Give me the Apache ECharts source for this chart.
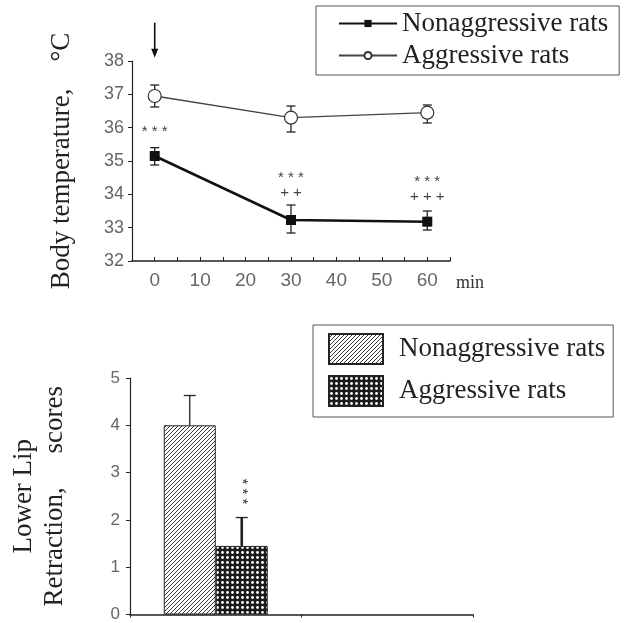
<!DOCTYPE html>
<html><head><meta charset="utf-8">
<script src="https://cdn.jsdelivr.net/npm/echarts/dist/echarts.min.js"></script>
<style>html,body{margin:0;padding:0;background:#fff}#c{width:625px;height:623px}</style>
</head><body><div id="c"></div>
<script>
// ---------- data ----------
const timePoints = [0, 30, 60];
const nonaggTemp = [35.15, 33.23, 33.18];
const nonaggTempLow = [34.88, 32.84, 32.93];
const nonaggTempHigh = [35.40, 33.68, 33.50];
const aggTemp = [36.95, 36.30, 36.45];
const aggTempLow = [36.62, 35.87, 36.14];
const aggTempHigh = [37.28, 36.65, 36.68];
const tempAnnotX = [0, 30, 30, 60, 60];
const tempAnnotY = [35.88, 34.48, 34.05, 34.38, 33.93];
const tempAnnotText = ['* * *', '* * *', '+ +', '* * *', '+ + +'];
const injectionArrow = [0, 39.15, 38.1];
const lipGroups = ['', ''];
const lipNonagg = [4.0];
const lipNonaggErr = [4.63];
const lipAgg = [1.45];
const lipAggErr = [2.05];
const lipAnnotY = 2.6;
const lipAnnotText = '* * *';
const tempTicks = { min: 32, max: 38, step: 1 };
const timeTicks = { min: -5, max: 65, step: 5 };
const lipTicks = { min: 0, max: 5, step: 1 };

// ---------- patterns ----------
function hatchCanvas() {
  const c = document.createElement('canvas'); c.width = c.height = 4;
  const g = c.getContext('2d');
  g.fillStyle = '#fff'; g.fillRect(0, 0, 4, 4);
  g.strokeStyle = '#222'; g.lineWidth = 0.9;
  g.beginPath();
  g.moveTo(0, 4); g.lineTo(4, 0);
  g.moveTo(-2, 2); g.lineTo(2, -2);
  g.moveTo(2, 6); g.lineTo(6, 2);
  g.stroke();
  return c;
}
function dotCanvas() {
  const c = document.createElement('canvas'); c.width = c.height = 5;
  const g = c.getContext('2d');
  g.fillStyle = '#1a1a1a'; g.fillRect(0, 0, 5, 5);
  g.fillStyle = '#fff';
  g.beginPath(); g.arc(2.5, 2.5, 1.4, 0, Math.PI * 2); g.fill();
  return c;
}
const hatchPattern = { image: hatchCanvas(), repeat: 'repeat' };
const dotPattern = { image: dotCanvas(), repeat: 'repeat' };

const serif = 'Liberation Serif';
const sans = 'Liberation Sans';
const BARW = 52;

const chart = echarts.init(document.getElementById('c'), null, { renderer: 'canvas' });

function errRender(capW, lw) {
  return function (params, api) {
    const x = api.value(0);
    const lo = api.coord([x, api.value(1)]);
    const hi = api.coord([x, api.value(2)]);
    const h = capW / 2;
    return {
      type: 'group',
      children: [
        { type: 'line', shape: { x1: lo[0], y1: lo[1], x2: hi[0], y2: hi[1] }, style: { stroke: '#222', lineWidth: lw } },
        { type: 'line', shape: { x1: lo[0] - h, y1: lo[1], x2: lo[0] + h, y2: lo[1] }, style: { stroke: '#222', lineWidth: lw } },
        { type: 'line', shape: { x1: hi[0] - h, y1: hi[1], x2: hi[0] + h, y2: hi[1] }, style: { stroke: '#222', lineWidth: lw } }
      ]
    };
  };
}

const option = {
  backgroundColor: '#fff',
  animation: false,
  grid: [
    { left: 132, top: 61, width: 318, height: 200 },
    { left: 127, top: 378, width: 346, height: 237 }
  ],
  legend: [
    {
      data: ['Nonaggressive rats', 'Aggressive rats'],
      orient: 'vertical', left: 316, top: 6,
      padding: [3, 11, 5, 22],
      borderColor: '#555', borderWidth: 1,
      itemWidth: 58, itemHeight: 9, itemGap: 3,
      selectedMode: false,
      textStyle: { fontFamily: serif, fontSize: 27, color: '#222', lineHeight: 29 }
    },
    {
      data: ['Nonaggressive rats|bar', 'Aggressive rats|bar'],
      orient: 'vertical', left: 313, top: 325,
      padding: [8, 8, 10, 15],
      borderColor: '#555', borderWidth: 1,
      itemWidth: 54, itemHeight: 30, itemGap: 10,
      icon: 'rect',
      selectedMode: false,
      formatter: n => n.split('|')[0],
      textStyle: { fontFamily: serif, fontSize: 27, color: '#222', padding: [0, 0, 0, 11] }
    }
  ],
  xAxis: [
    {
      type: 'value', gridIndex: 0, min: timeTicks.min, max: timeTicks.max, interval: timeTicks.step,
      axisLine: { onZero: false, lineStyle: { color: '#222', width: 1.5 } },
      axisTick: { inside: true, length: 4, lineStyle: { color: '#222' } },
      splitLine: { show: false },
      axisLabel: {
        fontFamily: sans, fontSize: 19, color: '#666', margin: 10,
        showMinLabel: true, showMaxLabel: true,
        formatter: v => (v >= 0 && v <= 60 && v % 10 === 0) ? String(v) : ''
      },
      name: 'min', nameLocation: 'end', nameGap: 6,
      nameTextStyle: { fontFamily: serif, fontSize: 18, color: '#333', verticalAlign: 'top', padding: [13, 0, 0, 0] }
    },
    {
      type: 'category', gridIndex: 1, data: lipGroups,
      axisLine: { onZero: false, lineStyle: { color: '#222', width: 1.5 } },
      axisTick: { show: true, alignWithLabel: false, length: 3, lineStyle: { color: '#222' } },
      axisLabel: { show: false }
    }
  ],
  yAxis: [
    {
      type: 'value', gridIndex: 0, min: tempTicks.min, max: tempTicks.max, interval: tempTicks.step,
      axisLine: { show: true, onZero: false, lineStyle: { color: '#222', width: 1.2 } },
      axisTick: { show: true, length: 4, lineStyle: { color: '#222' } },
      splitLine: { show: false },
      axisLabel: { fontFamily: sans, fontSize: 18, color: '#666', margin: 8 },
      name: 'Body temperature,    °C', nameLocation: 'middle', nameRotate: 90, nameGap: 57,
      nameTextStyle: { fontFamily: serif, fontSize: 27, color: '#222' }
    },
    {
      type: 'value', gridIndex: 1, min: lipTicks.min, max: lipTicks.max, interval: lipTicks.step,
      axisLine: { show: true, onZero: false, lineStyle: { color: '#222', width: 1.2 } },
      axisTick: { show: true, length: 4, lineStyle: { color: '#222' } },
      splitLine: { show: false },
      axisLabel: { fontFamily: sans, fontSize: 17, color: '#666', margin: 10 },
      name: 'Lower Lip\nRetraction,     scores', nameLocation: 'middle', nameRotate: 90, nameGap: 60,
      nameTextStyle: { fontFamily: serif, fontSize: 27, color: '#222', lineHeight: 31, align: 'center' }
    }
  ],
  series: [
    {
      type: 'custom', name: 'errTemp', xAxisIndex: 0, yAxisIndex: 0, z: 1, clip: false,
      data: timePoints.map((t, i) => [t, nonaggTempLow[i], nonaggTempHigh[i]]),
      renderItem: errRender(9, 1.3)
    },
    {
      type: 'custom', name: 'errTemp2', xAxisIndex: 0, yAxisIndex: 0, z: 1, clip: false,
      data: timePoints.map((t, i) => [t, aggTempLow[i], aggTempHigh[i]]),
      renderItem: errRender(9, 1.3)
    },
    {
      type: 'line', name: 'Nonaggressive rats', xAxisIndex: 0, yAxisIndex: 0, z: 3,
      data: timePoints.map((t, i) => [t, nonaggTemp[i]]),
      symbol: 'rect', symbolSize: 10,
      itemStyle: { color: '#111' },
      lineStyle: { color: '#111', width: 2.5 }
    },
    {
      type: 'line', name: 'Aggressive rats', xAxisIndex: 0, yAxisIndex: 0, z: 3,
      data: timePoints.map((t, i) => [t, aggTemp[i]]),
      symbol: 'circle', symbolSize: 13,
      itemStyle: { color: '#fff', borderColor: '#333', borderWidth: 1.2 },
      lineStyle: { color: '#444', width: 1.3 }
    },
    {
      type: 'custom', name: 'annot', xAxisIndex: 0, yAxisIndex: 0, z: 4, clip: false,
      data: tempAnnotX.map((x, i) => [x, tempAnnotY[i], i]),
      renderItem: function (params, api) {
        const p = api.coord([api.value(0), api.value(1)]);
        return { type: 'text', style: { text: tempAnnotText[api.value(2)], x: p[0], y: p[1], align: 'center', verticalAlign: 'middle', font: '15px ' + sans, fill: '#444' } };
      }
    },
    {
      type: 'custom', name: 'arrow', xAxisIndex: 0, yAxisIndex: 0, z: 4, clip: false,
      data: [injectionArrow],
      renderItem: function (params, api) {
        const a = api.coord([api.value(0), api.value(1)]);
        const b = api.coord([api.value(0), api.value(2)]);
        return {
          type: 'group', children: [
            { type: 'line', shape: { x1: a[0], y1: a[1], x2: b[0], y2: b[1] - 6 }, style: { stroke: '#111', lineWidth: 1.6 } },
            { type: 'polygon', shape: { points: [[b[0] - 3.5, b[1] - 9], [b[0] + 3.5, b[1] - 9], [b[0], b[1]]] }, style: { fill: '#111' } }
          ]
        };
      }
    },
    {
      type: 'bar', name: 'Nonaggressive rats|bar', xAxisIndex: 1, yAxisIndex: 1,
      data: lipNonagg, barWidth: BARW, barGap: '0%',
      itemStyle: { color: hatchPattern, borderColor: '#222', borderWidth: 1 }
    },
    {
      type: 'bar', name: 'Aggressive rats|bar', xAxisIndex: 1, yAxisIndex: 1,
      data: lipAgg, barWidth: BARW, barGap: '0%',
      itemStyle: { color: dotPattern, borderColor: '#222', borderWidth: 1 }
    },
    {
      type: 'custom', name: 'errLip', xAxisIndex: 1, yAxisIndex: 1, z: 4, clip: false,
      data: [[0, lipNonagg[0], lipNonaggErr[0], -1, 1.3], [0, lipAgg[0], lipAggErr[0], 1, 2.6]],
      renderItem: function (params, api) {
        const off = api.value(3) * BARW / 2;
        const lo = api.coord([api.value(0), api.value(1)]);
        const hi = api.coord([api.value(0), api.value(2)]);
        const x = lo[0] + off, lw = api.value(4);
        return {
          type: 'group', children: [
            { type: 'line', shape: { x1: x, y1: lo[1], x2: x, y2: hi[1] }, style: { stroke: '#222', lineWidth: lw } },
            { type: 'line', shape: { x1: x - 6, y1: hi[1], x2: x + 6, y2: hi[1] }, style: { stroke: '#222', lineWidth: 1.3 } }
          ]
        };
      }
    },
    {
      type: 'custom', name: 'lipAnnot', xAxisIndex: 1, yAxisIndex: 1, z: 4, clip: false,
      data: [[0, lipAnnotY]],
      renderItem: function (params, api) {
        const p = api.coord([api.value(0), api.value(1)]);
        return { type: 'text', x: p[0] + BARW / 2, y: p[1], rotation: -Math.PI / 2, style: { text: lipAnnotText, x: 0, y: 0, align: 'center', verticalAlign: 'middle', font: '15px ' + sans, fill: '#333' } };
      }
    }
  ]
};
chart.setOption(option);
</script>
</body></html>
